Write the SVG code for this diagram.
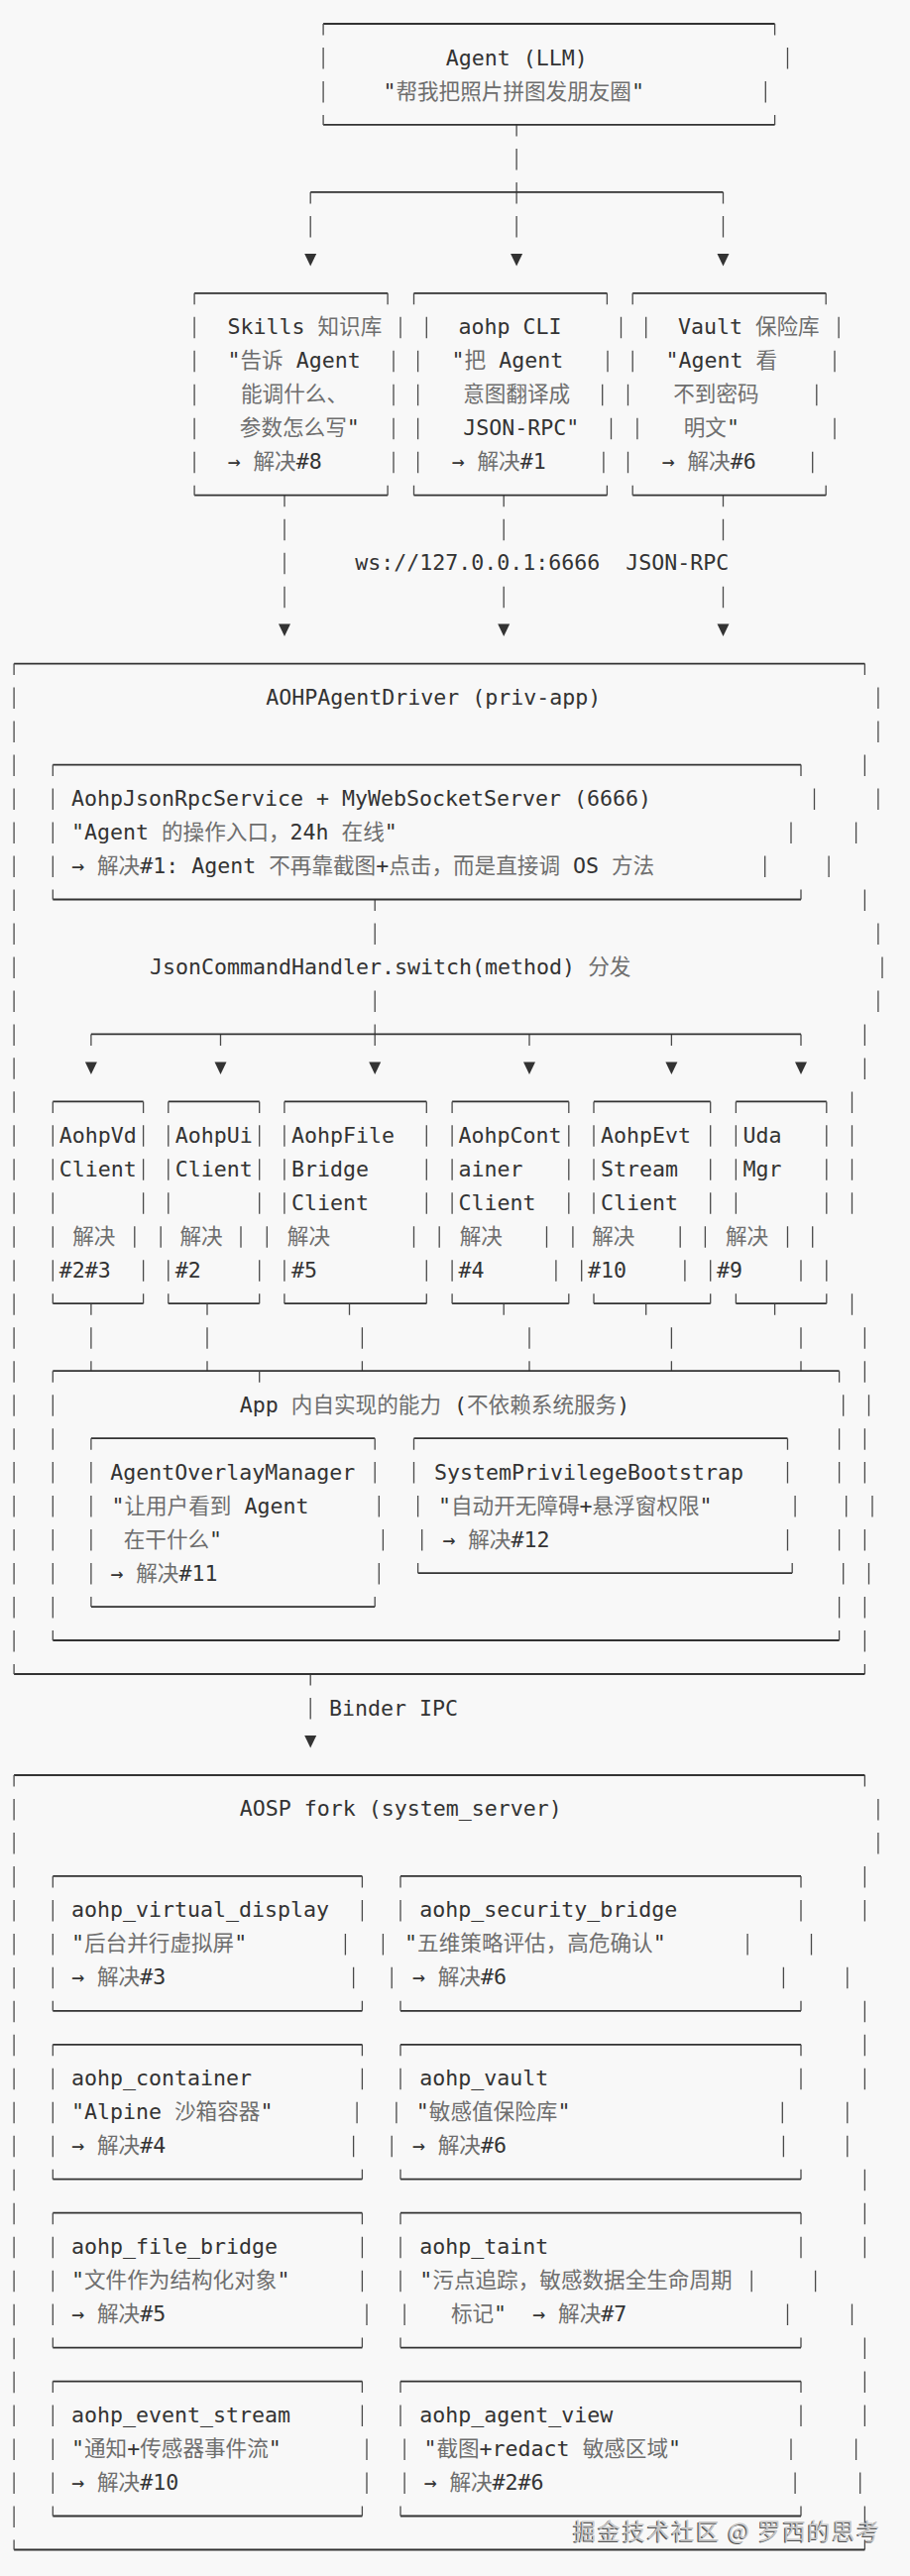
<svg xmlns="http://www.w3.org/2000/svg" xmlns:xlink="http://www.w3.org/1999/xlink" width="918" height="2599" viewBox="0 0 918 2599">
<style>
.h{stroke:#333;stroke-width:1.8;fill:none}
.v{stroke:#4a4a4a;stroke-width:1.3;fill:none}
.vd{stroke:#4a4a4a;stroke-width:1.3;fill:none;stroke-dasharray:21.5 12.48;stroke-dashoffset:10}
.t{font-family:"DejaVu Sans Mono","Noto Sans CJK SC",monospace;font-size:21.6px;fill:#333;white-space:pre}
.c{fill:#6e6e6e}
.wm{font-family:"Noto Sans CJK SC",sans-serif;font-size:23px}
</style>
<defs>
<path id="tri" d="M-6 -6H6L0 6.5Z" fill="#333"/>
</defs>
<rect width="918" height="2599" fill="#f8f8f8"/>

<g id="connectors">
<path class="v" d="M521.1 125.9V137.4M521.1 149.9V171.4M521.1 183.9V205.4M313.2 193.9V205.4M729.5 193.9V205.4M313.2 217.9V239.4M521.1 217.9V239.4M729.5 217.9V239.4"/>
<path class="h" d="M313.2 193.9H729.5"/>
<use href="#tri" x="313.2" y="261.9"/><use href="#tri" x="521.1" y="261.9"/><use href="#tri" x="729.5" y="261.9"/>
<path class="v" d="M287 499.7V511.2M508.2 499.7V511.2M729.5 499.7V511.2M287 523.7V545.2M508.2 523.7V545.2M729.5 523.7V545.2M287 557.7V579.2M287 591.7V613.2M508.2 591.7V613.2M729.5 591.7V613.2"/>
<text class="t" x="358.3" y="575.2" xml:space="preserve">ws://127.0.0.1:6666  JSON-RPC</text>
<use href="#tri" x="287" y="635.6"/><use href="#tri" x="508.2" y="635.6"/><use href="#tri" x="729.5" y="635.6"/>
<path class="v" d="M378.2 907.5V919M378.2 931.5V953M378.2 999.4V1020.9M378.2 1033.4V1054.9M91.9 1043.4V1054.9M222.5 1043.4V1054.9M534 1043.4V1054.9M677.4 1043.4V1054.9M808 1043.4V1054.9"/>
<path class="h" d="M91.9 1043.4H808"/>
<use href="#tri" x="91.9" y="1077.4"/><use href="#tri" x="222.5" y="1077.4"/><use href="#tri" x="378.2" y="1077.4"/><use href="#tri" x="534" y="1077.4"/><use href="#tri" x="677.4" y="1077.4"/><use href="#tri" x="808" y="1077.4"/>
<path class="v" d="M91.9 1315.2V1326.7M209 1315.2V1326.7M352.5 1315.2V1326.7M508.2 1315.2V1326.7M651.7 1315.2V1326.7M781.6 1315.2V1326.7M91.9 1339.2V1360.7M209 1339.2V1360.7M365.4 1339.2V1360.7M534 1339.2V1360.7M677.4 1339.2V1360.7M808 1339.2V1360.7M91.9 1373.2V1383.2M209 1373.2V1383.2M365.4 1373.2V1383.2M534 1373.2V1383.2M677.4 1373.2V1383.2M808 1373.2V1383.2"/>
<path class="v" d="M313.2 1689V1700.5M313.2 1713V1734.5"/>
<text class="t" x="332" y="1730.5">Binder IPC</text>
<use href="#tri" x="313.2" y="1757"/>
</g>

<g id="agent">
<path class="h" d="M326.1 24H781.6M326.1 125.9H781.6"/>
<path class="v" d="M326.1 24V35.5M781.6 24V35.5M326.1 48V69.5M794.5 48V69.5M326.1 82V103.5M772.3 82V103.5M326.1 115.9V125.9M781.6 115.9V125.9"/>
<text class="t" x="449.7" y="65.5">Agent (LLM)</text>
<text class="t" x="386.4" y="99.5">"<tspan class="c">帮我把照片拼图发朋友圈</tspan>"</text>
</g>

<g id="skills">
<path class="h" d="M196.1 295.8H391.1M196.1 499.7H391.1"/>
<path class="v" d="M196.1 295.8V307.3M391.1 295.8V307.3M196.1 319.8V341.3M404 319.8V341.3M196.1 353.8V375.3M397 353.8V375.3M196.1 387.8V409.3M397 387.8V409.3M196.1 421.8V443.3M397 421.8V443.3M196.1 455.7V477.2M397 455.7V477.2M196.1 489.7V499.7M391.1 489.7V499.7"/>
<text class="t" x="229.5" y="337.3">Skills <tspan class="c">知识库</tspan></text>
<text class="t" x="229.5" y="371.3">"<tspan class="c">告诉</tspan> Agent</text>
<text class="t" x="243" y="405.3"><tspan class="c">能调什么、</tspan></text>
<text class="t" x="241.8" y="439.3"><tspan class="c">参数怎么写</tspan>"</text>
<text class="t" x="229.5" y="473.2">→ <tspan class="c">解决</tspan>#8</text>
</g>

<g id="aohp-cli">
<path class="h" d="M417.5 295.8H612.4M417.5 499.7H612.4"/>
<path class="v" d="M417.5 295.8V307.3M612.4 295.8V307.3M430.3 319.8V341.3M626.5 319.8V341.3M421.6 353.8V375.3M613 353.8V375.3M421.6 387.8V409.3M607.7 387.8V409.3M421.6 421.8V443.3M616.5 421.8V443.3M421.6 455.7V477.2M608.9 455.7V477.2M417.5 489.7V499.7M612.4 489.7V499.7"/>
<text class="t" x="462.5" y="337.3">aohp CLI</text>
<text class="t" x="455.5" y="371.3">"<tspan class="c">把</tspan> Agent</text>
<text class="t" x="467.2" y="405.3"><tspan class="c">意图翻译成</tspan></text>
<text class="t" x="467.2" y="439.3">JSON-RPC"</text>
<text class="t" x="455.5" y="473.2">→ <tspan class="c">解决</tspan>#1</text>
</g>

<g id="vault">
<path class="h" d="M638.2 295.8H833.2M638.2 499.7H833.2"/>
<path class="v" d="M638.2 295.8V307.3M833.2 295.8V307.3M651.7 319.8V341.3M846.1 319.8V341.3M638.2 353.8V375.3M842 353.8V375.3M633.5 387.8V409.3M823.8 387.8V409.3M642.9 421.8V443.3M842 421.8V443.3M633.5 455.7V477.2M819.7 455.7V477.2M638.2 489.7V499.7M833.2 489.7V499.7"/>
<text class="t" x="683.9" y="337.3">Vault <tspan class="c">保险库</tspan></text>
<text class="t" x="671.6" y="371.3">"Agent <tspan class="c">看</tspan></text>
<text class="t" x="679.2" y="405.3"><tspan class="c">不到密码</tspan></text>
<text class="t" x="689.7" y="439.3"><tspan class="c">明文</tspan>"</text>
<text class="t" x="667.5" y="473.2">→ <tspan class="c">解决</tspan>#6</text>
</g>

<g id="aohp-agent-driver">
<path class="h" d="M14.1 669.6H872.4M14.1 1689H872.4"/>
<path class="vd" d="M14.1 669.6V1689"/>
<path class="v" d="M872.4 669.6V681.1M885.9 693.6V715.1M885.9 727.6V749.1M872.4 761.6V783.1M885.9 795.5V817M863.6 829.5V851M836.1 863.5V885M872.4 897.5V919M885.9 931.5V953M890 965.4V986.9M885.9 999.4V1020.9M872.4 1033.4V1054.9M872.4 1067.4V1088.9M859.5 1101.4V1122.9M859.5 1135.3V1156.8M859.5 1169.3V1190.8M859.5 1203.3V1224.8M819.7 1237.3V1258.8M833.8 1271.3V1292.8M859.5 1305.2V1326.7M872.4 1339.2V1360.7M872.4 1373.2V1394.7M876.5 1407.2V1428.7M872.4 1441.2V1462.7M872.4 1475.1V1496.6M880 1509.1V1530.6M872.4 1543.1V1564.6M876.5 1577.1V1598.6M872.4 1611.1V1632.6M872.4 1645V1666.5M872.4 1679V1689"/>
<text class="t" x="268.2" y="711.1">AOHPAgentDriver (priv-app)</text>
</g>

<g id="rpc-service">
<path class="h" d="M53.3 771.6H808M53.3 907.5H808"/>
<path class="v" d="M53.3 771.6V783.1M53.3 795.5V817M53.3 829.5V851M53.3 863.5V885M53.3 897.5V907.5M808 771.6V783.1M821.5 795.5V817M798 829.5V851M771.7 863.5V885M808 897.5V907.5"/>
<text class="t" x="72" y="813">AohpJsonRpcService + MyWebSocketServer (6666)</text>
<text class="t" x="72" y="847">"Agent <tspan class="c">的操作入口，</tspan>24h <tspan class="c">在线</tspan>"</text>
<text class="t" x="72" y="881">→ <tspan class="c">解决</tspan>#1: Agent <tspan class="c">不再靠截图</tspan>+<tspan class="c">点击，而是直接调</tspan> OS <tspan class="c">方法</tspan></text>
</g>

<g id="dispatcher">
<text class="t" x="151.1" y="982.9">JsonCommandHandler.switch(method) <tspan class="c">分发</tspan></text>
</g>

<g id="client-vd">
<path class="h" d="M53.3 1111.4H144.6M53.3 1315.2H144.6"/>
<path class="v" d="M53.3 1111.4V1122.9M144.6 1111.4V1122.9M53.3 1135.3V1156.8M144.6 1135.3V1156.8M53.3 1169.3V1190.8M144.6 1169.3V1190.8M53.3 1203.3V1224.8M144.6 1203.3V1224.8M53.3 1237.3V1258.8M135.8 1237.3V1258.8M53.3 1271.3V1292.8M144.6 1271.3V1292.8M53.3 1305.2V1315.2M144.6 1305.2V1315.2"/>
<text class="t" x="59.7" y="1152.8">AohpVd</text>
<text class="t" x="59.7" y="1186.8">Client</text>
<text class="t" x="73.2" y="1254.8"><tspan class="c">解决</tspan></text>
<text class="t" x="59.7" y="1288.8">#2#3</text>
</g>

<g id="client-ui">
<path class="h" d="M169.8 1111.4H261.7M169.8 1315.2H261.7"/>
<path class="v" d="M169.8 1111.4V1122.9M261.7 1111.4V1122.9M169.8 1135.3V1156.8M261.7 1135.3V1156.8M169.8 1169.3V1190.8M261.7 1169.3V1190.8M169.8 1203.3V1224.8M261.7 1203.3V1224.8M162.2 1237.3V1258.8M243 1237.3V1258.8M169.8 1271.3V1292.8M261.7 1271.3V1292.8M169.8 1305.2V1315.2M261.7 1305.2V1315.2"/>
<text class="t" x="176.8" y="1152.8">AohpUi</text>
<text class="t" x="176.8" y="1186.8">Client</text>
<text class="t" x="181.5" y="1254.8"><tspan class="c">解决</tspan></text>
<text class="t" x="176.8" y="1288.8">#2</text>
</g>

<g id="client-file">
<path class="h" d="M286.9 1111.4H430.3M286.9 1315.2H430.3"/>
<path class="v" d="M286.9 1111.4V1122.9M430.3 1111.4V1122.9M286.9 1135.3V1156.8M430.3 1135.3V1156.8M286.9 1169.3V1190.8M430.3 1169.3V1190.8M286.9 1203.3V1224.8M430.3 1203.3V1224.8M269.3 1237.3V1258.8M417.5 1237.3V1258.8M286.9 1271.3V1292.8M430.3 1271.3V1292.8M286.9 1305.2V1315.2M430.3 1305.2V1315.2"/>
<text class="t" x="293.9" y="1152.8">AohpFile</text>
<text class="t" x="293.9" y="1186.8">Bridge</text>
<text class="t" x="293.9" y="1220.8">Client</text>
<text class="t" x="289.8" y="1254.8"><tspan class="c">解决</tspan></text>
<text class="t" x="293.9" y="1288.8">#5</text>
</g>

<g id="client-container">
<path class="h" d="M456.1 1111.4H573.8M456.1 1315.2H573.8"/>
<path class="v" d="M456.1 1111.4V1122.9M573.8 1111.4V1122.9M456.1 1135.3V1156.8M573.8 1135.3V1156.8M456.1 1169.3V1190.8M573.8 1169.3V1190.8M456.1 1203.3V1224.8M573.8 1203.3V1224.8M443.2 1237.3V1258.8M551.5 1237.3V1258.8M456.1 1271.3V1292.8M560.9 1271.3V1292.8M456.1 1305.2V1315.2M573.8 1305.2V1315.2"/>
<text class="t" x="462.5" y="1152.8">AohpCont</text>
<text class="t" x="462.5" y="1186.8">ainer</text>
<text class="t" x="462.5" y="1220.8">Client</text>
<text class="t" x="463.7" y="1254.8"><tspan class="c">解决</tspan></text>
<text class="t" x="462.5" y="1288.8">#4</text>
</g>

<g id="client-evt">
<path class="h" d="M599 1111.4H716.7M599 1315.2H716.7"/>
<path class="v" d="M599 1111.4V1122.9M716.7 1111.4V1122.9M599 1135.3V1156.8M716.7 1135.3V1156.8M599 1169.3V1190.8M716.7 1169.3V1190.8M599 1203.3V1224.8M716.7 1203.3V1224.8M577.9 1237.3V1258.8M686.2 1237.3V1258.8M586.7 1271.3V1292.8M690.9 1271.3V1292.8M599 1305.2V1315.2M716.7 1305.2V1315.2"/>
<text class="t" x="606" y="1152.8">AohpEvt</text>
<text class="t" x="606" y="1186.8">Stream</text>
<text class="t" x="606" y="1220.8">Client</text>
<text class="t" x="597.2" y="1254.8"><tspan class="c">解决</tspan></text>
<text class="t" x="593.1" y="1288.8">#10</text>
</g>

<g id="client-uda">
<path class="h" d="M742.4 1111.4H833.8M742.4 1315.2H833.8"/>
<path class="v" d="M742.4 1111.4V1122.9M833.8 1111.4V1122.9M742.4 1135.3V1156.8M833.8 1135.3V1156.8M742.4 1169.3V1190.8M833.8 1169.3V1190.8M742.4 1203.3V1224.8M833.8 1203.3V1224.8M711.4 1237.3V1258.8M794.5 1237.3V1258.8M716.7 1271.3V1292.8M808 1271.3V1292.8M742.4 1305.2V1315.2M833.8 1305.2V1315.2"/>
<text class="t" x="749.4" y="1152.8">Uda</text>
<text class="t" x="749.4" y="1186.8">Mgr</text>
<text class="t" x="731.9" y="1254.8"><tspan class="c">解决</tspan></text>
<text class="t" x="723.1" y="1288.8">#9</text>
</g>

<g id="app-capabilities">
<path class="h" d="M53.3 1383.2H846.6M53.3 1655H846.6"/>
<path class="v" d="M53.3 1383.2V1394.7M261.7 1383.2V1394.7M846.6 1383.2V1394.7M53.3 1407.2V1428.7M850.7 1407.2V1428.7M53.3 1441.2V1462.7M846.6 1441.2V1462.7M53.3 1475.1V1496.6M846.6 1475.1V1496.6M53.3 1509.1V1530.6M853.7 1509.1V1530.6M53.3 1543.1V1564.6M846.6 1543.1V1564.6M53.3 1577.1V1598.6M850.7 1577.1V1598.6M53.3 1611.1V1632.6M846.6 1611.1V1632.6M53.3 1645V1655M846.6 1645V1655"/>
<text class="t" x="241.8" y="1424.7">App <tspan class="c">内自实现的能力</tspan> (<tspan class="c">不依赖系统服务</tspan>)</text>
</g>

<g id="agent-overlay-manager">
<path class="h" d="M91.9 1451.2H378.2M91.9 1621.1H378.2"/>
<path class="v" d="M91.9 1451.2V1462.7M378.2 1451.2V1462.7M91.9 1475.1V1496.6M378.2 1475.1V1496.6M91.9 1509.1V1530.6M382.3 1509.1V1530.6M91.9 1543.1V1564.6M386.4 1543.1V1564.6M91.9 1577.1V1598.6M382.3 1577.1V1598.6M91.9 1611.1V1621.1M378.2 1611.1V1621.1"/>
<text class="t" x="111.2" y="1492.6">AgentOverlayManager</text>
<text class="t" x="112.4" y="1526.6">"<tspan class="c">让用户看到</tspan> Agent</text>
<text class="t" x="124.7" y="1560.6"><tspan class="c">在干什么</tspan>"</text>
<text class="t" x="111.2" y="1594.6">→ <tspan class="c">解决</tspan>#11</text>
</g>

<g id="system-privilege-bootstrap">
<path class="h" d="M417.5 1451.2H794.5M421.6 1587.1H799.2"/>
<path class="v" d="M417.5 1451.2V1462.7M794.5 1451.2V1462.7M417.5 1475.1V1496.6M794.5 1475.1V1496.6M421.6 1509.1V1530.6M802.1 1509.1V1530.6M425.7 1543.1V1564.6M794.5 1543.1V1564.6M421.6 1577.1V1587.1M799.2 1577.1V1587.1"/>
<text class="t" x="438" y="1492.6">SystemPrivilegeBootstrap</text>
<text class="t" x="442" y="1526.6">"<tspan class="c">自动开无障碍</tspan>+<tspan class="c">悬浮窗权限</tspan>"</text>
<text class="t" x="446.2" y="1560.6">→ <tspan class="c">解决</tspan>#12</text>
</g>

<g id="aosp-fork">
<path class="h" d="M14.1 1791H872.4M14.1 2572.5H872.4"/>
<path class="vd" d="M14.1 1791V2572.5"/>
<path class="v" d="M872.4 1791V1802.5M885.9 1814.9V1836.4M885.9 1848.9V1870.4M872.4 1882.9V1904.4M872.4 1916.9V1938.4M818.5 1950.9V1972.4M854.8 1984.8V2006.3M872.4 2018.8V2040.3M872.4 2052.8V2074.3M872.4 2086.8V2108.3M854.8 2120.8V2142.3M854.8 2154.7V2176.2M872.4 2188.7V2210.2M872.4 2222.7V2244.2M872.4 2256.7V2278.2M822.6 2290.7V2312.2M859.5 2324.6V2346.1M872.4 2358.6V2380.1M872.4 2392.6V2414.1M872.4 2426.6V2448.1M863.6 2460.6V2482.1M867.7 2494.5V2516M872.4 2528.5V2550M872.4 2562.5V2572.5"/>
<text class="t" x="241.8" y="1832.4">AOSP fork (system_server)</text>
</g>

<g id="aohp-virtual-display">
<path class="h" d="M53.3 1892.9H365.4M53.3 2028.8H365.4"/>
<path class="v" d="M53.3 1892.9V1904.4M365.4 1892.9V1904.4M53.3 1916.9V1938.4M365.4 1916.9V1938.4M53.3 1950.9V1972.4M348.4 1950.9V1972.4M53.3 1984.8V2006.3M356.6 1984.8V2006.3M53.3 2018.8V2028.8M365.4 2018.8V2028.8"/>
<text class="t" x="72" y="1934.4">aohp_virtual_display</text>
<text class="t" x="72" y="1968.4">"<tspan class="c">后台并行虚拟屏</tspan>"</text>
<text class="t" x="72" y="2002.3">→ <tspan class="c">解决</tspan>#3</text>
</g>

<g id="aohp-security-bridge">
<path class="h" d="M404 1892.9H808M404 2028.8H808"/>
<path class="v" d="M404 1892.9V1904.4M808 1892.9V1904.4M404 1916.9V1938.4M808 1916.9V1938.4M386.4 1950.9V1972.4M754.1 1950.9V1972.4M395.2 1984.8V2006.3M790.4 1984.8V2006.3M404 2018.8V2028.8M808 2018.8V2028.8"/>
<text class="t" x="423.3" y="1934.4">aohp_security_bridge</text>
<text class="t" x="408.1" y="1968.4">"<tspan class="c">五维策略评估，高危确认</tspan>"</text>
<text class="t" x="415.7" y="2002.3">→ <tspan class="c">解决</tspan>#6</text>
</g>

<g id="aohp-container">
<path class="h" d="M53.3 2062.8H365.4M53.3 2198.7H365.4"/>
<path class="v" d="M53.3 2062.8V2074.3M365.4 2062.8V2074.3M53.3 2086.8V2108.3M365.4 2086.8V2108.3M53.3 2120.8V2142.3M360.1 2120.8V2142.3M53.3 2154.7V2176.2M356.6 2154.7V2176.2M53.3 2188.7V2198.7M365.4 2188.7V2198.7"/>
<text class="t" x="72" y="2104.3">aohp_container</text>
<text class="t" x="72" y="2138.3">"Alpine <tspan class="c">沙箱容器</tspan>"</text>
<text class="t" x="72" y="2172.2">→ <tspan class="c">解决</tspan>#4</text>
</g>

<g id="aohp-vault">
<path class="h" d="M404 2062.8H808M404 2198.7H808"/>
<path class="v" d="M404 2062.8V2074.3M808 2062.8V2074.3M404 2086.8V2108.3M808 2086.8V2108.3M399.9 2120.8V2142.3M789.3 2120.8V2142.3M395.2 2154.7V2176.2M790.4 2154.7V2176.2M404 2188.7V2198.7M808 2188.7V2198.7"/>
<text class="t" x="423.3" y="2104.3">aohp_vault</text>
<text class="t" x="419.8" y="2138.3">"<tspan class="c">敏感值保险库</tspan>"</text>
<text class="t" x="415.7" y="2172.2">→ <tspan class="c">解决</tspan>#6</text>
</g>

<g id="aohp-file-bridge">
<path class="h" d="M53.3 2232.7H365.4M53.3 2368.6H365.4"/>
<path class="v" d="M53.3 2232.7V2244.2M365.4 2232.7V2244.2M53.3 2256.7V2278.2M365.4 2256.7V2278.2M53.3 2290.7V2312.2M365.4 2290.7V2312.2M53.3 2324.6V2346.1M370 2324.6V2346.1M53.3 2358.6V2368.6M365.4 2358.6V2368.6"/>
<text class="t" x="72" y="2274.2">aohp_file_bridge</text>
<text class="t" x="72" y="2308.2">"<tspan class="c">文件作为结构化对象</tspan>"</text>
<text class="t" x="72" y="2342.1">→ <tspan class="c">解决</tspan>#5</text>
</g>

<g id="aohp-taint">
<path class="h" d="M404 2232.7H808M404 2368.6H808"/>
<path class="v" d="M404 2232.7V2244.2M808 2232.7V2244.2M404 2256.7V2278.2M808 2256.7V2278.2M404 2290.7V2312.2M758.2 2290.7V2312.2M408.1 2324.6V2346.1M794.5 2324.6V2346.1M404 2358.6V2368.6M808 2358.6V2368.6"/>
<text class="t" x="423.3" y="2274.2">aohp_taint</text>
<text class="t" x="423.3" y="2308.2">"<tspan class="c">污点追踪，敏感数据全生命周期</tspan></text>
<text class="t" x="454.9" y="2342.1" xml:space="preserve"><tspan class="c">标记</tspan>"  → <tspan class="c">解决</tspan>#7</text>
</g>

<g id="aohp-event-stream">
<path class="h" d="M53.3 2402.6H365.4M53.3 2538.5H365.4"/>
<path class="v" d="M53.3 2402.6V2414.1M365.4 2402.6V2414.1M53.3 2426.6V2448.1M365.4 2426.6V2448.1M53.3 2460.6V2482.1M370 2460.6V2482.1M53.3 2494.5V2516M370 2494.5V2516M53.3 2528.5V2538.5M365.4 2528.5V2538.5"/>
<text class="t" x="72" y="2444.1">aohp_event_stream</text>
<text class="t" x="72" y="2478.1">"<tspan class="c">通知</tspan>+<tspan class="c">传感器事件流</tspan>"</text>
<text class="t" x="72" y="2512">→ <tspan class="c">解决</tspan>#10</text>
</g>

<g id="aohp-agent-view">
<path class="h" d="M404 2402.6H808M404 2538.5H808"/>
<path class="v" d="M404 2402.6V2414.1M808 2402.6V2414.1M404 2426.6V2448.1M808 2426.6V2448.1M408.1 2460.6V2482.1M798 2460.6V2482.1M408.1 2494.5V2516M802.1 2494.5V2516M404 2528.5V2538.5M808 2528.5V2538.5"/>
<text class="t" x="423.3" y="2444.1">aohp_agent_view</text>
<text class="t" x="427.4" y="2478.1">"<tspan class="c">截图</tspan>+redact <tspan class="c">敏感区域</tspan>"</text>
<text class="t" x="427.4" y="2512">→ <tspan class="c">解决</tspan>#2#6</text>
</g>

<g id="watermark">
<text class="wm" x="577" y="2563" fill="#555" textLength="309" lengthAdjust="spacing">掘金技术社区 @ 罗西的思考</text>
<text class="wm" x="578.2" y="2562" fill="#c6c6c6" textLength="309" lengthAdjust="spacing">掘金技术社区 @ 罗西的思考</text>
</g>
</svg>
